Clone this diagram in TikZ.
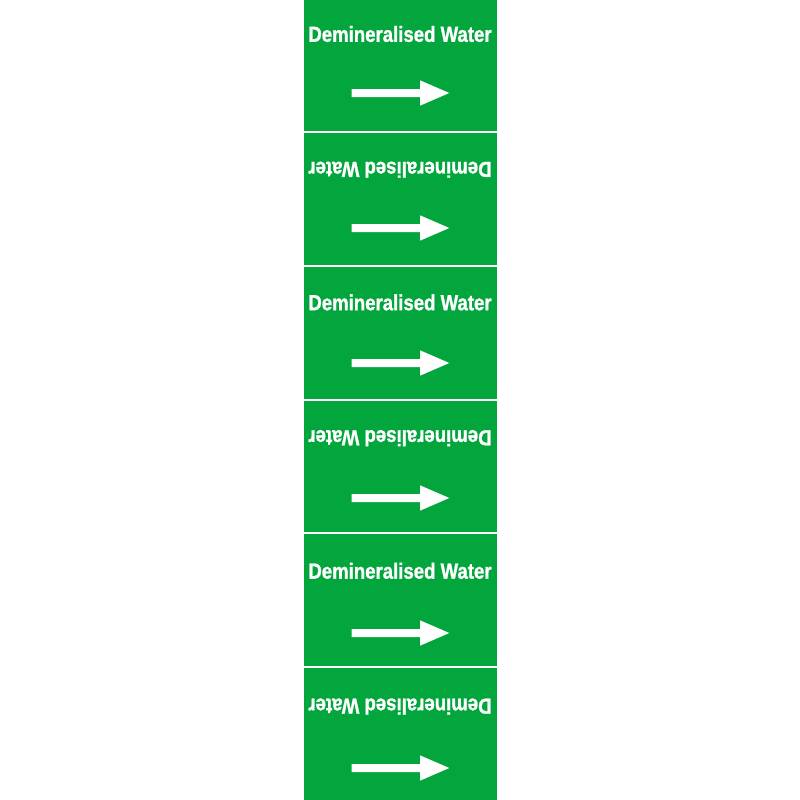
\documentclass[tikz,border=0pt]{standalone}
\usepackage{fontspec}
\setmainfont{Liberation Sans}
\newfontfamily\labelfont[FakeBold=1.2]{Liberation Sans Bold}
\definecolor{pipegreen}{RGB}{3,166,60}
\tikzset{every picture/.style={line width=0.75pt}}
\begin{document}
\begin{tikzpicture}[x=0.75pt,y=0.75pt,yscale=-1,xscale=1]
\useasboundingbox (0,0) rectangle (800,800);

% Strip
\fill [pipegreen] (303.5,0) rectangle (496.5,800) ;
% Dividers
\foreach \dy in {131.7,266,400,533.3,666.7}
  \draw [white, line width=1.5] (303.5,\dy) -- (496.5,\dy) ;

\foreach \i in {0,...,5} {
  \pgfmathsetmacro{\ty}{34+134.2*\i+mod(\i,2)*1.5}
  \pgfmathsetmacro{\rot}{mod(\i,2)*180}
  \pgfmathsetmacro{\ay}{93+135*\i}
  % Text Node
  \draw (400,\ty) node (label\i) [inner sep=0pt, text=white, rotate=\rot, font=\fontsize{16.4}{19}\labelfont] {\scalebox{0.85}[1]{Demineralised Water}};
  % Arrow
  \fill [white] (351.7,\ay-4) -- (420,\ay-4) -- (420,\ay-12.7) -- (449.3,\ay) -- (420,\ay+12.7) -- (420,\ay+4) -- (351.7,\ay+4) -- cycle ;
}

\end{tikzpicture}
\end{document}
